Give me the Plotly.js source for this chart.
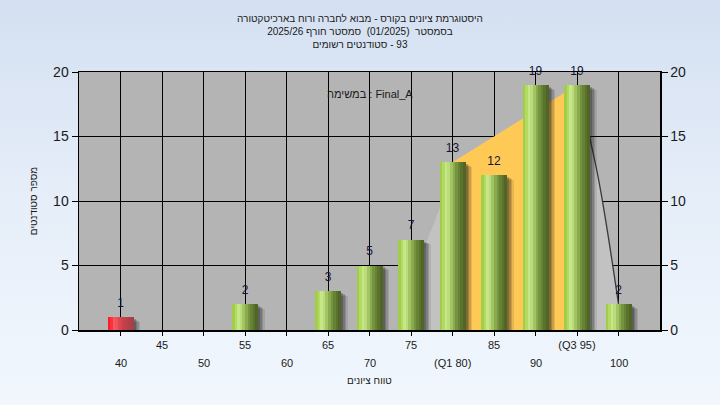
<!DOCTYPE html>
<html><head><meta charset="utf-8">
<script src="https://cdn.plot.ly/plotly-3.0.1.min.js"></script>
<style>
html,body{margin:0;padding:0;width:720px;height:405px;overflow:hidden;background:linear-gradient(to bottom,#d4e0f1 0%,#e6eef9 50%,#f1f7fd 100%);}
#chart{width:720px;height:405px;}
</style></head><body><div id="chart"></div>
<script>
// ---- data ----
const grades = [40,45,50,55,60,65,70,75,80,85,90,95,100];
const counts = [1,0,0,2,0,3,5,7,13,12,19,19,2];
const tickLabels = ['40','45','50','55','60','65','70','75','(Q1 80)','85','90','(Q3 95)','100'];
const failLimit = 55; // grades below this are red
const q1 = 80, q3 = 95;
const quartileY = [13, 19];
const curveX = [75, 80, 95, 97.5, 100];
const curveY = [3.7, 12, 19, 12, 2];
const tailX = [95, 97.5, 100];
const tailY = [19, 12, 2];
const titleLines = ['היסטוגרמת ציונים בקורס - מבוא לחברה ורוח בארכיטקטורה','בסמסטר  (01/2025)  סמסטר חורף 2025/26','\u202Aסטודנטים רשומים - \u200E93\u202C'];
const taskLabel = 'במשימה : Final_A';
const xTitle = 'טווח ציונים';
const yTitle = 'מספר סטודנטים';

// ---- style ----
const FONT = 'Liberation Sans, Arial, sans-serif';
const BW = 3.1;
const greenStops = [[160,206,72],[180,218,100],[198,230,138],[188,220,124],[162,196,98],[138,170,80],[118,148,64],[102,130,52],[90,114,44],[80,102,38]];
const redStops = [[255,28,36],[255,50,58],[250,88,96],[236,84,92],[220,72,82],[206,66,76],[194,64,74],[184,64,72],[176,64,72],[168,62,70]];
const rgb = c => `rgb(${c[0]},${c[1]},${c[2]})`;

const traces = [];
// background area under curve (light gray) - base subplot, drawn beneath bars
traces.push({type:'scatter',x:curveX,y:curveY,mode:'lines',line:{width:0,color:'rgba(0,0,0,0)'},fill:'tozeroy',fillcolor:'#c2c2c2',hoverinfo:'skip',showlegend:false});
// quartile band (yellow)
traces.push({type:'scatter',x:[q1,q3],y:quartileY,mode:'lines',line:{width:0,color:'rgba(0,0,0,0)'},fill:'tozeroy',fillcolor:'#ffc955',hoverinfo:'skip',showlegend:false});
// tail line
traces.push({type:'scatter',x:tailX,y:tailY,mode:'lines',line:{width:1.3,color:'#3a3a3a',shape:'spline'},hoverinfo:'skip',showlegend:false});
// soft shadows (overlay subplot)
const shadowLayers = [[0.8,-0.36,0.10],[0.62,-0.29,0.15],[0.46,-0.22,0.19],[0.3,-0.15,0.24]];
shadowLayers.forEach(([dx,b,a])=>{
  traces.push({type:'bar',x:grades,y:counts,base:b,width:BW,offset:-BW/2+dx,yaxis:'y2',
    marker:{color:`rgba(20,20,20,${a})`,line:{width:0}},hoverinfo:'skip',showlegend:false});
});
// cylinder strips
const n = greenStops.length;
for(let i=0;i<n;i++){
  traces.push({type:'bar',x:grades,y:counts,width:BW/n+0.03,offset:-BW/2+i*BW/n,yaxis:'y2',
    marker:{color:grades.map(g=>g<failLimit?rgb(redStops[i]):rgb(greenStops[i])),line:{width:0}},
    hoverinfo:'skip',showlegend:false});
}
// value labels
traces.push({type:'scatter',x:grades,y:counts,mode:'markers+text',marker:{size:10,color:'rgba(0,0,0,0)'},
  text:counts.map(v=>v>0?String(v):''),textposition:'top center',
  textfont:{family:FONT,size:12,color:'#141432'},cliponaxis:false,yaxis:'y2',hoverinfo:'skip',showlegend:false});

const annotations = [{xref:'paper',yref:'paper',x:0.5,y:0.945,text:taskLabel,showarrow:false,font:{family:FONT,size:11,color:'#1a1a1a'}}];
// second row of x tick labels
grades.forEach((g,i)=>{
  if(i%2===0) annotations.push({xref:'x',yref:'paper',x:g,y:0,yanchor:'middle',yshift:-33,text:tickLabels[i],showarrow:false,font:{family:FONT,size:11,color:'#1a1a1a'}});
});

const layout = {
  width:720,height:405,
  margin:{l:79,r:60,t:72,b:75},
  paper_bgcolor:'rgba(0,0,0,0)',plot_bgcolor:'#b4b4b4',
  barmode:'overlay',bargap:0,
  font:{family:FONT,color:'#1a1a1a'},
  title:{text:titleLines.join('<br>'),x:0.5,xanchor:'center',y:1-22/405,yanchor:'top',font:{size:10,color:'#1a1a1a'}},
  xaxis:{range:[35,105],tickvals:grades,ticktext:tickLabels.map((t,i)=>i%2===0?'':t),
    showgrid:true,gridcolor:'#000',gridwidth:1,ticks:'outside',ticklen:4,tickcolor:'#000',
    showline:true,linecolor:'#000',linewidth:1.5,mirror:true,zeroline:false,
    tickfont:{size:11,color:'#1a1a1a'},
    title:{text:xTitle,font:{size:10,color:'#1a1a1a'},standoff:27}},
  yaxis:{range:[0,20],dtick:5,showgrid:true,gridcolor:'#000',gridwidth:1,ticks:'outside',ticklen:6,tickcolor:'#000',
    showline:true,linecolor:'#000',linewidth:1.5,zeroline:false,tickfont:{size:14,color:'#1a1a1a'},
    title:{text:yTitle,font:{size:10,color:'#1a1a1a'},standoff:13}},
  yaxis2:{range:[0,20],dtick:5,overlaying:'y',side:'right',showgrid:false,ticks:'outside',ticklen:6,tickcolor:'#000',
    showline:true,linecolor:'#000',linewidth:1.5,zeroline:false,tickfont:{size:14,color:'#1a1a1a'}},
  annotations:annotations,
  showlegend:false
};
Plotly.newPlot('chart',traces,layout,{staticPlot:true,displayModeBar:false});
</script></body></html>
